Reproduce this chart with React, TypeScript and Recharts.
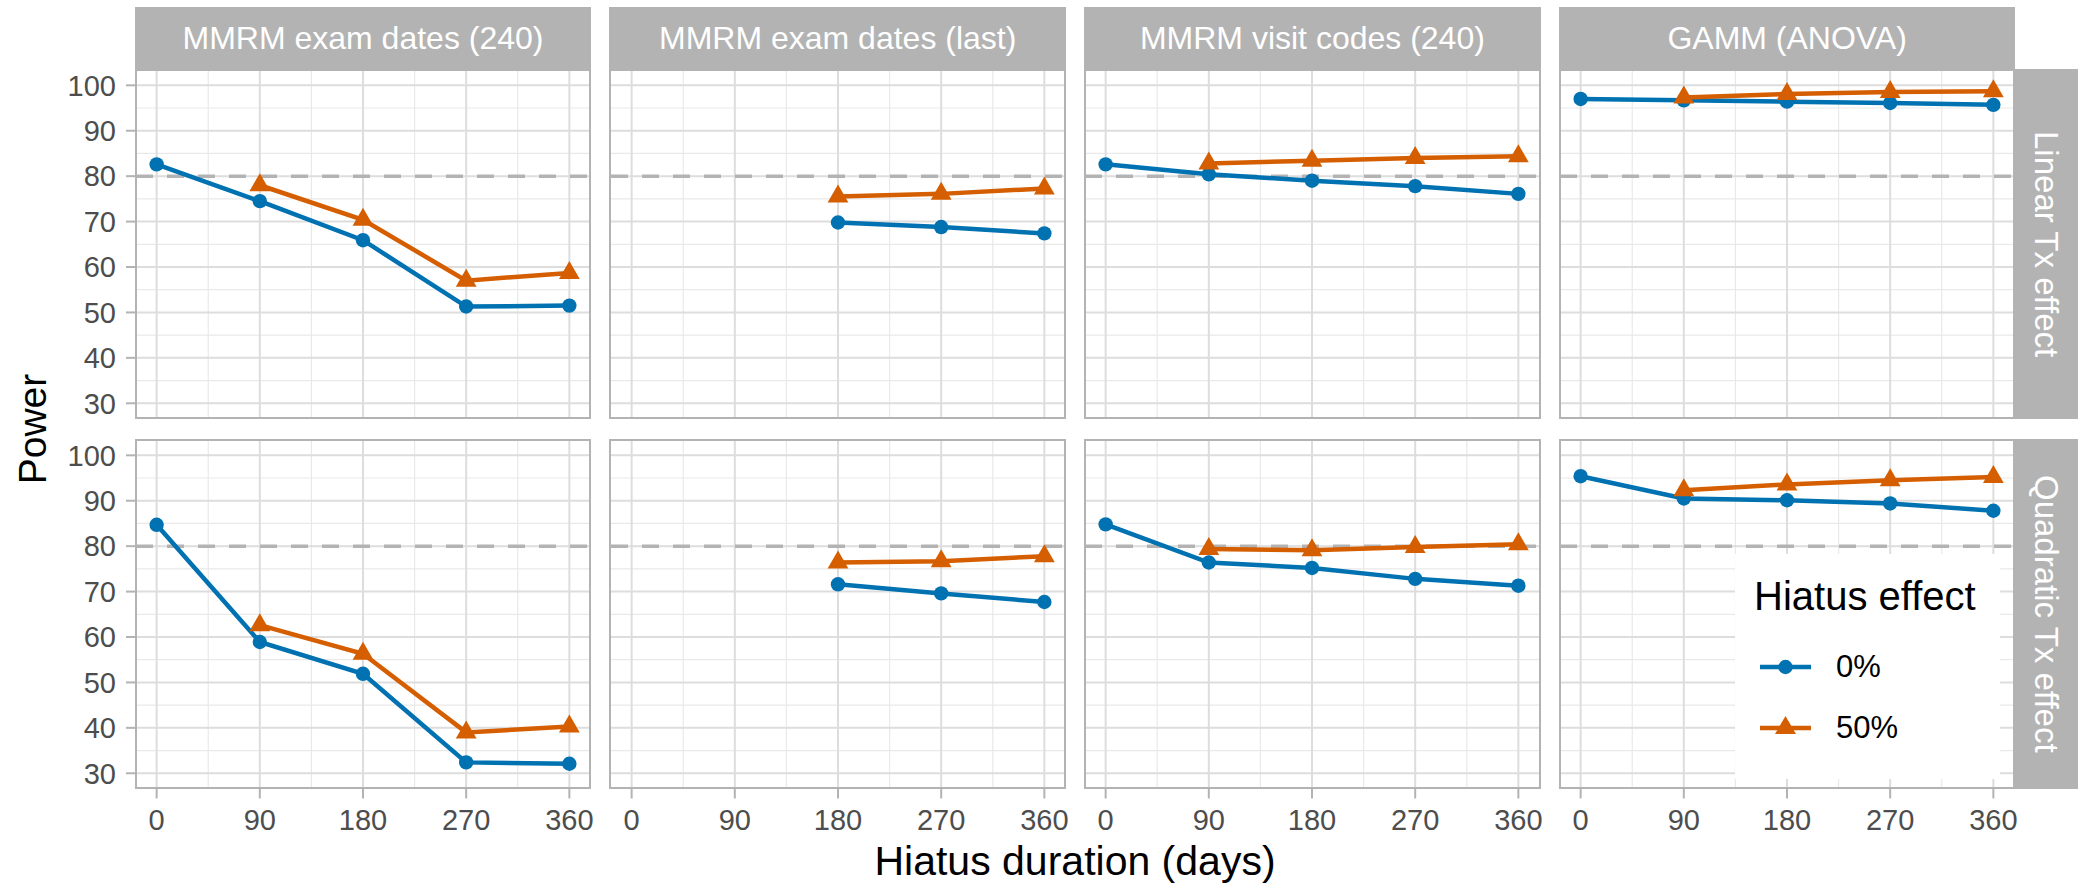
import React from "react";
import {
  LineChart,
  Line,
  XAxis,
  YAxis,
  CartesianGrid,
  ReferenceLine,
  Legend,
} from "recharts";

const days = [0, 90, 180, 270, 360];
const dayTicks = [0, 90, 180, 270, 360];
const dayMinor = [45, 135, 225, 315];
const powerTicks = [30, 40, 50, 60, 70, 80, 90, 100];
const powerMinor = [35, 45, 55, 65, 75, 85, 95];

const methods = [
  "MMRM exam dates (240)",
  "MMRM exam dates (last)",
  "MMRM visit codes (240)",
  "GAMM (ANOVA)",
];
const effects = ["Linear Tx effect", "Quadratic Tx effect"];
const hiatusLevels = ["0%", "50%"];

// power (%) by hiatus duration, linear treatment effect
const linExam240_0 = [82.6, 74.5, 65.9, 51.3, 51.5];
const linExam240_50 = [null, 78.0, 70.4, 57.0, 58.7];
const linExamLast_0 = [null, null, 69.8, 68.8, 67.4];
const linExamLast_50 = [null, null, 75.5, 76.1, 77.3];
const linVisit_0 = [82.6, 80.4, 79.0, 77.8, 76.1];
const linVisit_50 = [null, 82.8, 83.4, 84.0, 84.4];
const linGamm_0 = [97.0, 96.7, 96.4, 96.1, 95.7];
const linGamm_50 = [null, 97.3, 98.1, 98.5, 98.7];

// power (%) by hiatus duration, quadratic treatment effect
const quadExam240_0 = [84.7, 58.9, 51.9, 32.4, 32.1];
const quadExam240_50 = [null, 62.6, 56.3, 39.0, 40.3];
const quadExamLast_0 = [null, null, 71.6, 69.6, 67.7];
const quadExamLast_50 = [null, null, 76.4, 76.7, 77.8];
const quadVisit_0 = [84.8, 76.4, 75.2, 72.8, 71.3];
const quadVisit_50 = [null, 79.4, 79.1, 79.8, 80.4];
const quadGamm_0 = [95.4, 90.5, 90.1, 89.4, 87.8];
const quadGamm_50 = [null, 92.3, 93.6, 94.5, 95.2];

const target = 80;

const seriesGrid = [
  [
    [linExam240_0, linExam240_50],
    [linExamLast_0, linExamLast_50],
    [linVisit_0, linVisit_50],
    [linGamm_0, linGamm_50],
  ],
  [
    [quadExam240_0, quadExam240_50],
    [quadExamLast_0, quadExamLast_50],
    [quadVisit_0, quadVisit_50],
    [quadGamm_0, quadGamm_50],
  ],
];

const BLUE = "#0072B2";
const ORANGE = "#D55E00";
const STRIP = "#B3B3B3";
const FONT = '"Liberation Sans", Arial, Helvetica, sans-serif';

// facet geometry
const PANEL_W = 454;
const PANEL_H = 347.5;
const COL_LEFT = [136, 610.7, 1085.4, 1560.1];
const ROW_TOP = [70.5, 440.5];
const STRIP_TOP = 7.3;
const Y_AXIS_W = 100;
const X_AXIS_H = 60;
const X_DOMAIN: [number, number] = [-18, 378];
const Y_DOMAIN: [number, number] = [26.65, 103.15];

const circleDot = (props: any) => {
  const { cx, cy, index, value } = props;
  if (value == null || cy == null) return <g key={`c${index}`} />;
  return <circle key={`c${index}`} cx={cx} cy={cy} r={7.2} fill={BLUE} />;
};

const triangleDot = (props: any) => {
  const { cx, cy, index, value } = props;
  if (value == null || cy == null) return <g key={`t${index}`} />;
  const d = `M${cx},${cy - 12} L${cx + 10.4},${cy + 6} L${cx - 10.4},${cy + 6} Z`;
  return <path key={`t${index}`} d={d} fill={ORANGE} />;
};

function HiatusLegend(props: any) {
  const items = props.payload || [];
  return (
    <div
      style={{
        width: 265,
        height: 225,
        background: "#fff",
        fontFamily: FONT,
        position: "relative",
      }}
    >
      <div
        style={{
          position: "absolute",
          left: 19,
          top: 42,
          transform: "translateY(-50%)",
          fontSize: 40,
          color: "#000",
          whiteSpace: "nowrap",
        }}
      >
        Hiatus effect
      </div>
      {items.map((item: any, i: number) => {
        const cy = 113 + i * 61;
        const isTri = item.dataKey === "p50";
        return (
          <div key={item.value}>
            <svg
              width={60}
              height={30}
              style={{ position: "absolute", left: 20, top: cy - 15 }}
            >
              <line x1={5} y1={15} x2={56} y2={15} stroke={item.color} strokeWidth={4.5} />
              {isTri ? (
                <path d="M30.5,3 L41,21 L20,21 Z" fill={item.color} />
              ) : (
                <circle cx={30.5} cy={15} r={7.2} fill={item.color} />
              )}
            </svg>
            <div
              style={{
                position: "absolute",
                left: 101,
                top: cy,
                transform: "translateY(-50%)",
                fontSize: 31,
                color: "#000",
              }}
            >
              {item.value}
            </div>
          </div>
        );
      })}
    </div>
  );
}

function Panel({ row, col }: { row: number; col: number }) {
  const [s0, s50] = seriesGrid[row][col];
  const data = days.map((day, i) => ({ day, p0: s0[i], p50: s50[i] }));
  const showY = col === 0;
  const showX = row === 1;
  const withLegend = row === 1 && col === 3;
  const left = COL_LEFT[col] - (showY ? Y_AXIS_W : 0);
  const top = ROW_TOP[row];

  return (
    <div style={{ position: "absolute", left, top }}>
      <LineChart
        width={PANEL_W + (showY ? Y_AXIS_W : 0)}
        height={PANEL_H + (showX ? X_AXIS_H : 0)}
        data={data}
        margin={{ top: 0, right: 0, bottom: 0, left: 0 }}
      >
        <CartesianGrid
          stroke="#E9E9E9"
          strokeWidth={1.2}
          horizontalValues={powerMinor}
          verticalValues={dayMinor}
        />
        <CartesianGrid
          stroke="#DDDDDD"
          strokeWidth={2}
          horizontalValues={powerTicks}
          verticalValues={dayTicks}
        />
        <XAxis
          dataKey="day"
          type="number"
          domain={X_DOMAIN}
          ticks={dayTicks}
          allowDataOverflow
          hide={!showX}
          height={X_AXIS_H}
          axisLine={false}
          tickSize={10}
          tickMargin={11}
          tickLine={{ stroke: "#B3B3B3", strokeWidth: 2 }}
          tick={{ fill: "#4D4D4D", fontSize: 29 }}
          interval={0}
        />
        <YAxis
          type="number"
          domain={Y_DOMAIN}
          ticks={powerTicks}
          allowDataOverflow
          hide={!showY}
          width={Y_AXIS_W}
          axisLine={false}
          tickSize={10}
          tickMargin={10}
          tickLine={{ stroke: "#B3B3B3", strokeWidth: 2 }}
          tick={{ fill: "#4D4D4D", fontSize: 29 }}
          interval={0}
        />
        <ReferenceLine
          y={target}
          stroke="#B3B3B3"
          strokeWidth={3.5}
          strokeDasharray="17 14"
        />
        <Line
          dataKey="p0"
          name={hiatusLevels[0]}
          stroke={BLUE}
          strokeWidth={4.5}
          dot={circleDot}
          activeDot={false}
          isAnimationActive={false}
        />
        <Line
          dataKey="p50"
          name={hiatusLevels[1]}
          stroke={ORANGE}
          strokeWidth={4.5}
          dot={triangleDot}
          activeDot={false}
          isAnimationActive={false}
        />
        {withLegend && (
          <Legend
            layout="vertical"
            align="center"
            verticalAlign="middle"
            content={<HiatusLegend />}
            wrapperStyle={{ left: 175, top: 113.5, width: 265, height: 225 }}
          />
        )}
      </LineChart>
      {/* panel border */}
      <div
        style={{
          position: "absolute",
          left: (showY ? Y_AXIS_W : 0) - 1.25,
          top: -1.25,
          width: PANEL_W + 2.5,
          height: PANEL_H + 2.5,
          border: `2.5px solid ${STRIP}`,
          boxSizing: "border-box",
          pointerEvents: "none",
        }}
      />
    </div>
  );
}

export default function App() {
  return (
    <div
      style={{
        position: "absolute",
        left: 0,
        top: 0,
        width: 2085,
        height: 884,
        background: "#fff",
        fontFamily: FONT,
        overflow: "hidden",
      }}
    >
      <style>{`.recharts-surface { overflow: visible; }`}</style>
      {effects.map((_, row) =>
        methods.map((__, col) => <Panel key={`${row}-${col}`} row={row} col={col} />)
      )}

      {methods.map((m, col) => (
        <div
          key={m}
          style={{
            position: "absolute",
            left: COL_LEFT[col] - 1.25,
            top: STRIP_TOP,
            width: PANEL_W + 2.5,
            height: ROW_TOP[0] - STRIP_TOP,
            background: STRIP,
            color: "#fff",
            fontSize: 32,
            display: "flex",
            alignItems: "center",
            justifyContent: "center",
            whiteSpace: "nowrap",
          }}
        >
          {m}
        </div>
      ))}

      {effects.map((e, row) => (
        <div
          key={e}
          style={{
            position: "absolute",
            left: COL_LEFT[3] + PANEL_W,
            top: ROW_TOP[row] - 1.25,
            width: 64,
            height: PANEL_H + 2.5,
            background: STRIP,
            color: "#fff",
            fontSize: 33,
            display: "flex",
            alignItems: "center",
            justifyContent: "center",
            writingMode: "vertical-rl",
            whiteSpace: "nowrap",
          }}
        >
          {e}
        </div>
      ))}

      <div
        style={{
          position: "absolute",
          left: 33,
          top: 429,
          transform: "translate(-50%, -50%) rotate(-90deg)",
          fontSize: 39,
          color: "#000",
          whiteSpace: "nowrap",
        }}
      >
        Power
      </div>
      <div
        style={{
          position: "absolute",
          left: 1075,
          top: 861,
          transform: "translate(-50%, -50%)",
          fontSize: 41,
          color: "#000",
          whiteSpace: "nowrap",
        }}
      >
        Hiatus duration (days)
      </div>
    </div>
  );
}
